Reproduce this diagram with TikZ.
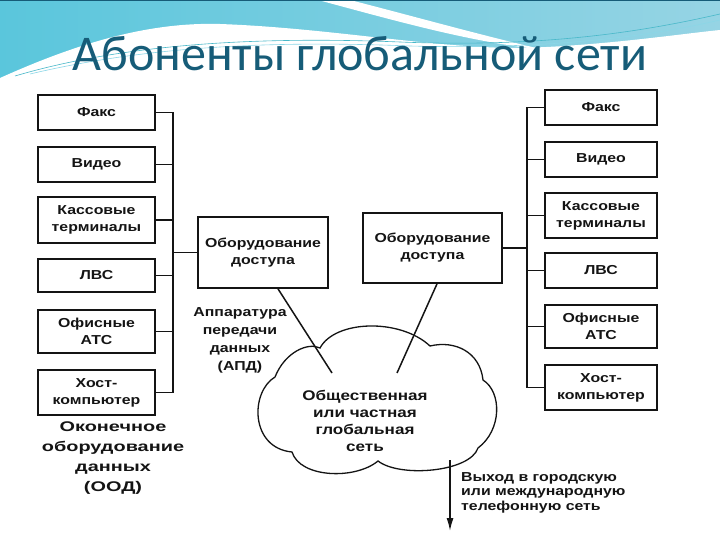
\documentclass[tikz,border=0pt]{standalone}
\usepackage{fontspec}
\setmainfont{Liberation Sans}
\newfontfamily\dfont[FakeStretch=1.22]{Liberation Sans}
\newfontfamily\efont[FakeStretch=1.42]{Liberation Sans}
\newfontfamily\tfont{Carlito}
\usetikzlibrary{arrows.meta,calc}
\definecolor{titlecol}{RGB}{22,92,120}
\definecolor{bandL}{RGB}{90,198,220}
\definecolor{bandR}{RGB}{150,212,228}
\definecolor{ink}{RGB}{20,20,20}
\tikzset{
  dbox/.style={draw=ink, line width=1.7pt, inner sep=0pt, align=center,
    minimum width=117pt, font=\dfont\bfseries\fontsize{13}{17}\selectfont, text=ink},
  rbox/.style={dbox, minimum width=112pt},
  conn/.style={draw=ink, line width=1.5pt},
  lbl/.style={align=center, inner sep=0pt, text=ink, font=\dfont\bfseries\fontsize{13}{18}\selectfont},
}
\begin{document}
\begin{tikzpicture}[x=1pt,y=-1pt]
\useasboundingbox (0,0) rectangle (720,540);
\fill[white] (0,0) rectangle (720,540);
% banner
\shade[left color=bandL, right color=bandR] (0,0) rectangle (720,82);
\fill[white] (0,82) -- (0,78) .. controls (80,42) and (150,22) .. (220,24)
  .. controls (330,28) and (430,48) .. (520,48)
  .. controls (600,46) and (680,34) .. (720,30) -- (720,82) -- cycle;
\fill[white] (318,0) -- (350,0) .. controls (420,18) and (480,35) .. (545,50)
  .. controls (470,42) and (400,22) .. (318,0) -- cycle;
\draw[bandL!80!teal, line width=0.6pt] (15,76) .. controls (120,45) and (250,36) .. (400,42) .. controls (550,48) and (650,30) .. (720,14);
\draw[bandL!70!white, line width=0.6pt] (30,74) .. controls (140,48) and (260,40) .. (410,46) .. controls (560,50) and (660,34) .. (720,20);
\draw[titlecol, line width=1.5pt] (0,0.7) -- (720,0.7);
\node[font=\tfont\fontsize{50}{56}\selectfont, text=titlecol, inner sep=0pt, anchor=base] (title) at (360,71) {Абоненты глобальной сети};

% left terminals
\node[dbox, minimum height=35pt] (lf) at (96.5,112.5) {Факс};
\node[dbox, minimum height=35pt] (lv) at (96.5,164.5) {Видео};
\node[dbox, minimum height=46pt] (lk) at (96.5,220) {Кассовые\\терминалы};
\node[dbox, minimum height=33pt] (ll) at (96.5,275.5) {ЛВС};
\node[dbox, minimum height=43pt] (lo) at (96.5,331.5) {Офисные\\АТС};
\node[dbox, minimum height=45pt] (lh) at (96.5,392.5) {Хост-\\компьютер};
\coordinate (lbus) at (173,0);

% right terminals
\node[rbox, minimum height=35pt] (rf) at (601,107.5) {Факс};
\node[rbox, minimum height=35pt] (rv) at (601,159.5) {Видео};
\node[rbox, minimum height=45pt] (rk) at (601,215.5) {Кассовые\\терминалы};
\node[rbox, minimum height=35pt] (rl) at (601,270.5) {ЛВС};
\node[rbox, minimum height=43pt] (ro) at (601,326.5) {Офисные\\АТС};
\node[rbox, minimum height=45pt] (rh) at (601,387.5) {Хост-\\компьютер};
\coordinate (rbus) at (527,0);

% access equipment
\node[dbox, minimum width=130pt, minimum height=71pt] (la) at (263,252.5) {Оборудование\\доступа};
\node[dbox, minimum width=139pt, minimum height=70pt] (ra) at (432.5,248) {Оборудование\\доступа};

% left bus
\foreach \n in {lf,lv,lk,ll,lo,lh} \draw[conn] (\n.east) -- (\n.east -| lbus);
\draw[conn] (lf.east -| lbus) -- (lh.east -| lbus);
\draw[conn] (la.west) -- (la.west -| lbus);
% right bus
\foreach \n in {rf,rv,rk,rl,ro,rh} \draw[conn] (\n.west) -- (\n.west -| rbus);
\draw[conn] (rf.west -| rbus) -- (rh.west -| rbus);
\draw[conn] (ra.east) -- (ra.east -| rbus);

% cloud
\draw[ink, line width=1.3pt, fill=white] (275,377)
  .. controls (285,352) and (308,342) .. (320,348)
  .. controls (335,320) and (400,318) .. (430,346)
  .. controls (455,340) and (480,352) .. (483,380)
  .. controls (502,392) and (502,430) .. (478,448)
  .. controls (470,472) and (400,478) .. (378,461)
  .. controls (355,480) and (300,478) .. (292,452)
  .. controls (250,448) and (250,392) .. (275,377) -- cycle;
\node[lbl, font=\dfont\bfseries\fontsize{14}{17}\selectfont] (net) at (365,421) {Общественная\\или частная\\глобальная\\сеть};
\coordinate (cl) at (332,373);
\coordinate (cr) at (397,373);
\draw[conn] ([xshift=15pt]la.south) -- (cl);
\draw[conn] ([xshift=4.5pt]ra.south) -- (cr);

% exit arrow
\coordinate (ex0) at (450,460);
\coordinate (ex1) at (450,531);
\draw[conn, -{Latex[length=13pt,width=7pt]}] (ex0) -- (ex1);
\node[lbl, align=left, anchor=north west, font=\dfont\bfseries\fontsize{13}{14.8}\selectfont] (exit) at (461,472) {Выход в городскую\\или международную\\телефонную сеть};

% labels
\node[lbl] (apd) at (240,340) {Аппаратура\\передачи\\данных\\(АПД)};
\node[lbl, font=\efont\bfseries\fontsize{14}{20}\selectfont] (ood) at (113,458) {Оконечное\\оборудование\\данных\\(ООД)};
\end{tikzpicture}
\end{document}
